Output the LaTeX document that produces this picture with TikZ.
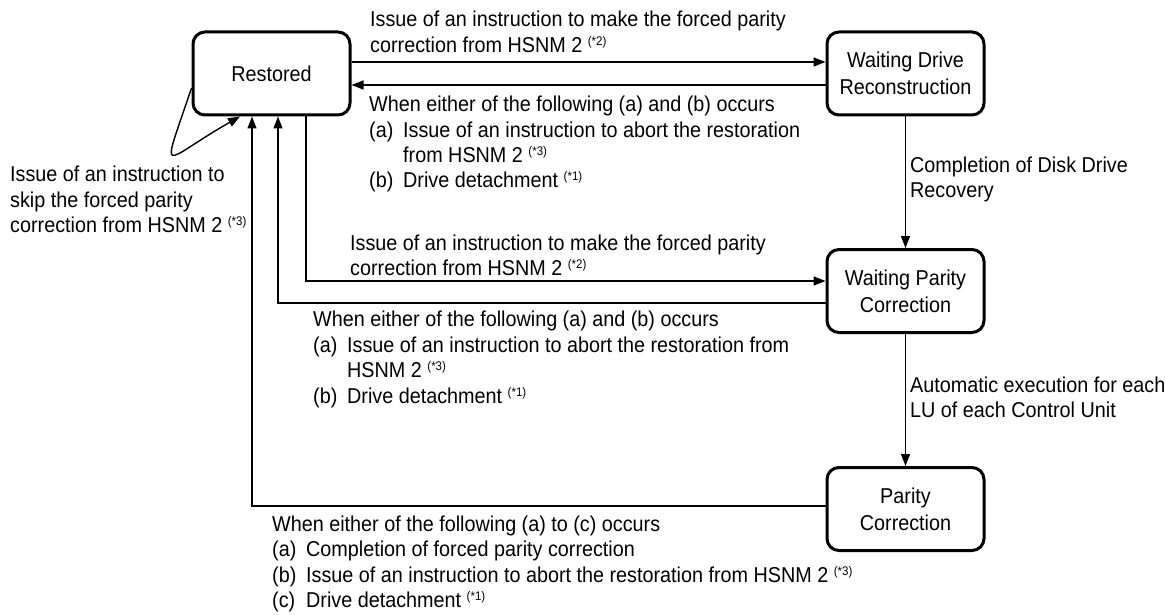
\documentclass[tikz,border=0pt]{standalone}
\usepackage{fontspec}
\setmainfont[FakeStretch=0.92]{Liberation Sans}
\usetikzlibrary{arrows.meta}
\newcommand{\lblfont}{\fontsize{21.5}{25.5}\selectfont}
\newcommand{\boxfont}{\fontsize{21.5}{27}\selectfont}
\newcommand{\snote}[1]{\raisebox{7pt}{\fontsize{12.5}{12.5}\selectfont(*#1)}}
\newcommand{\itm}[1]{\makebox[34pt][l]{#1}}
\begin{document}
\begin{tikzpicture}[x=1pt,y=-1pt,
  box/.style={draw, line width=3pt, rounded corners=12pt, minimum width=157pt, minimum height=83pt, align=center, inner sep=0pt, font=\boxfont},
  lbl/.style={anchor=base west, align=left, inner sep=0pt, font=\lblfont},
  arr/.style={line width=1.4pt, -{Triangle[length=12pt,width=9pt]}}]
\useasboundingbox (0,0) rectangle (1165,615);
% states
\node[box] (restored) at (271.5,73.5) {Restored};
\node[box] (wdr) at (905.5,73.5) {Waiting Drive\\Reconstruction};
\node[box] (wpc) at (905.5,291) {Waiting Parity\\Correction};
\node[box] (pc) at (905.5,509) {Parity\\Correction};
% waypoints
\coordinate (c1) at (306,281);
\coordinate (c2) at (278,303);
\coordinate (c3) at (252,506);
% transitions
\draw[arr] (restored.east |- 0,62) -- (wdr.west |- 0,62);
\draw[arr] (wdr.west |- 0,85) -- (restored.east |- 0,85);
\draw[arr] (wdr.south) -- (wpc.north);
\draw[arr] (wpc.south) -- (pc.north);
\draw[arr] (restored.south -| c1) -- (c1) -- (wpc.west |- c1);
\draw[arr] (wpc.west |- c2) -- (c2) -- (restored.south -| c2);
\draw[arr] (pc.west |- c3) -- (c3) -- (restored.south -| c3);
\draw[arr] (restored.west |- 0,88) .. controls (160,182) and (160,162) .. (restored.south -| 240,0);
% labels (anchored at the baseline of their last line)
\node[lbl] (t1) at (370,52.5) {Issue of an instruction to make the forced parity\\correction from HSNM 2 \snote{2}};
\node[lbl] (t2) at (369,188) {When either of the following (a) and (b) occurs\\\itm{(a)}Issue of an instruction to abort the restoration\\\hspace*{34pt}from HSNM 2 \snote{3}\\\itm{(b)}Drive detachment \snote{1}};
\node[lbl] (tloop) at (10,232.5) {Issue of an instruction to\\skip the forced parity\\correction from HSNM 2 \snote{3}};
\node[lbl] (tdisk) at (910,197.5) {Completion of Disk Drive\\Recovery};
\node[lbl] (t3) at (350,275.5) {Issue of an instruction to make the forced parity\\correction from HSNM 2 \snote{2}};
\node[lbl] (t4) at (313,403) {When either of the following (a) and (b) occurs\\\itm{(a)}Issue of an instruction to abort the restoration from\\\hspace*{34pt}HSNM 2 \snote{3}\\\itm{(b)}Drive detachment \snote{1}};
\node[lbl] (tauto) at (910,417.5) {Automatic execution for each\\LU of each Control Unit};
\node[lbl] (t6) at (272,607.5) {When either of the following (a) to (c) occurs\\\itm{(a)}Completion of forced parity correction\\\itm{(b)}Issue of an instruction to abort the restoration from HSNM 2 \snote{3}\\\itm{(c)}Drive detachment \snote{1}};
\end{tikzpicture}
\end{document}
